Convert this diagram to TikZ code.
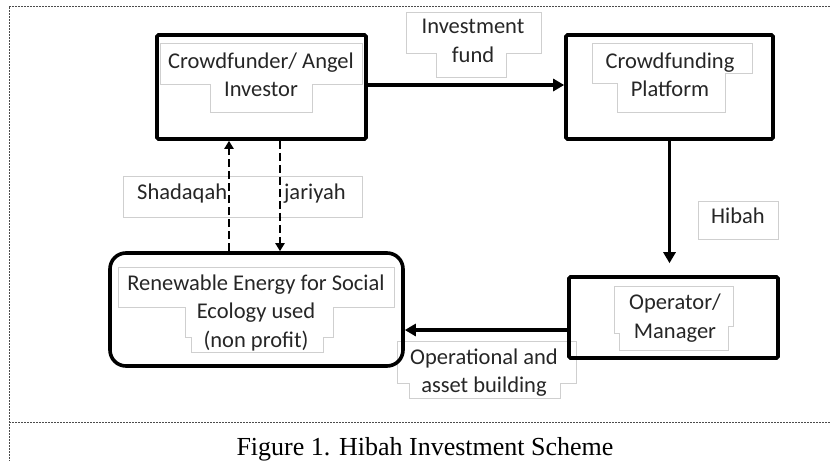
\documentclass[tikz,border=0pt]{standalone}
\usepackage{fontspec}
\setmainfont{Carlito}
\newfontfamily\capfont{Liberation Serif}
\usetikzlibrary{arrows.meta}
\definecolor{txt}{HTML}{262626}
\definecolor{lbl}{HTML}{CFCFCF}
\begin{document}
\begin{tikzpicture}[x=1pt,y=-1pt,
  mainbox/.style={draw=black, line width=3.6pt, rounded corners=1.5pt, inner sep=0pt, minimum width=#1},
  lbltxt/.style={text=txt, font=\fontsize{22.5}{28.5}\selectfont, align=center, inner sep=0pt,
     execute at begin node=\strut, execute at end node=\strut},
  lblframe/.style={draw=lbl, line width=0.8pt},
  solidarr/.style={line width=3.2pt, -{Triangle[length=11pt,width=12pt]}},
  dasharr/.style={line width=2pt, dash pattern=on 8pt off 4pt, -{Triangle[length=8pt,width=9pt]}},
  framedash/.style={draw=black!70, line width=0.6pt, dash pattern=on 2pt off 1pt}]
\useasboundingbox (0,0) rectangle (830,461);
% outer frame
\coordinate (ftl) at (9,6);
\coordinate (ftr) at (830,6);
\coordinate (fbl) at (9,461);
\coordinate (fml) at (9,422);
\coordinate (fmr) at (830,422);
\draw[framedash] (ftr) -- (ftl) -- (fbl);
\draw[framedash] (fml) -- (fmr);
% label frames (stepped text boxes)
\draw[lblframe] (160,43) -- (362,43) -- (362,84) -- (312,84) -- (312,112) -- (210,112) -- (210,84) -- (160,84) -- cycle;
\draw[lblframe] (592,43) -- (752,43) -- (752,73) -- (725,73) -- (725,112) -- (617,112) -- (617,83) -- (592,83) -- cycle;
\draw[lblframe] (406,12) -- (541,12) -- (541,53) -- (506,53) -- (506,77) -- (436,77) -- (436,53) -- (406,53) -- cycle;
\draw[lblframe] (118,267) -- (394,267) -- (394,307) -- (333,307) -- (333,337) -- (323,337) -- (323,352) -- (191,352) -- (191,337) -- (185,337) -- (185,307) -- (118,307) -- cycle;
\draw[lblframe] (614,286) -- (733,286) -- (733,326) -- (728,326) -- (728,350) -- (619,350) -- (619,333) -- (614,333) -- cycle;
\draw[lblframe] (397,341) -- (576,341) -- (576,383) -- (560,383) -- (560,398) -- (409,398) -- (409,383) -- (397,383) -- cycle;
\draw[lblframe] (698,201) rectangle (778,239);
\draw[lblframe] (123,176) rectangle (362,217);
% main boxes
\node[mainbox=209pt, minimum height=104pt] (A) at (261.5,87) {};
\node[mainbox=207pt, minimum height=104pt] (B) at (669.5,87) {};
\node[mainbox=209pt, minimum height=81pt] (D) at (673.5,317.5) {};
\node[draw=black, line width=3.6pt, rounded corners=16pt, inner sep=0pt, minimum width=293pt, minimum height=113pt] (C) at (256.5,309.5) {};
% texts
\node[lbltxt] (At) at (261,79) {Crowdfunder/ Angel\\Investor};
\node[lbltxt] (Bt) at (670,79) {Crowdfunding\\Platform};
\node[lbltxt] (Dt) at (675,320.5) {Operator/\\Manager};
\node[lbltxt] (Ct) at (256,315) {Renewable Energy for Social\\Ecology used\\(non profit)};
\node[lbltxt] (If) at (473,45) {Investment\\fund};
\node[lbltxt] (Op) at (484,375) {Operational and\\asset building};
\node[lbltxt] (Hb) at (738,218) {Hibah};
\node[text=txt, font=\fontsize{22.5}{28.5}\selectfont, inner sep=0pt, anchor=base west] (Sj) at (137,199.5) {Shadaqah\hspace{57pt}jariyah};
\node[font=\capfont\fontsize{26}{30}\selectfont, text=black, inner sep=0pt, anchor=base] (cap) at (425,455) {Figure 1. Hibah Investment Scheme};
% helper coordinates
\coordinate (yab) at (0,85);
\coordinate (ydc) at (0,330);
\coordinate (xl) at (229,0);
\coordinate (xr) at (280,0);
% connectors
\draw[solidarr] (A.east |- yab) -- (B.west |- yab);
\draw[solidarr, shorten >=12pt] (B.south) -- (B.south |- D.north);
\draw[solidarr] (D.west |- ydc) -- (C.east |- ydc);
\draw[dasharr] (xl |- C.north) -- (xl |- A.south);
\draw[dasharr] (xr |- A.south) -- (xr |- C.north);
\end{tikzpicture}
\end{document}
